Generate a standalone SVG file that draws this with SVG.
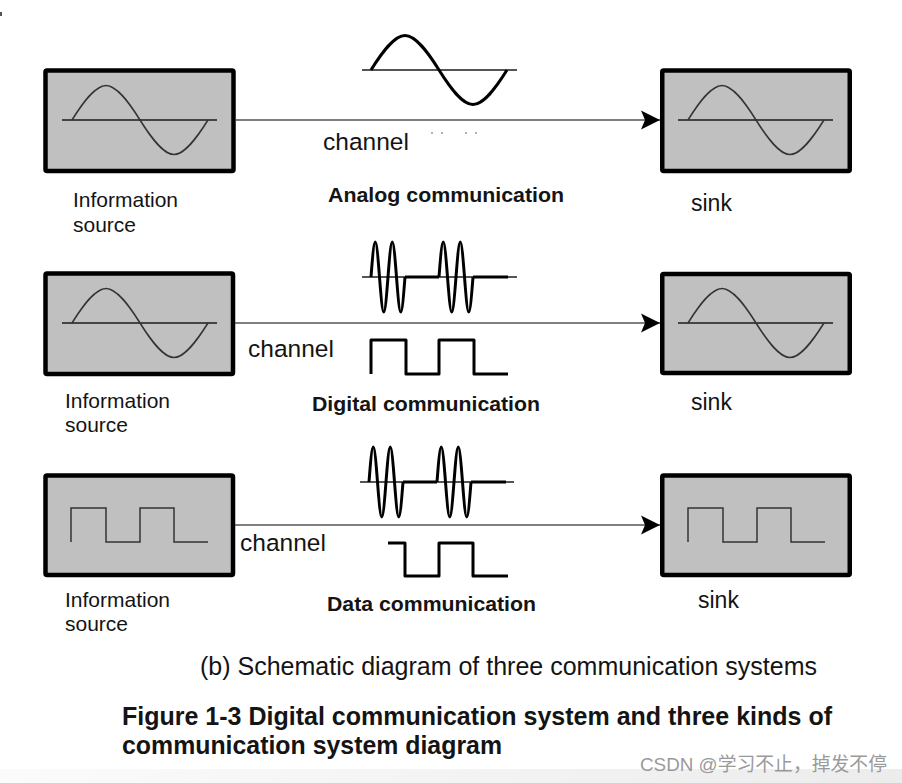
<svg xmlns="http://www.w3.org/2000/svg" xmlns:xlink="http://www.w3.org/1999/xlink" width="902" height="783" viewBox="0 0 902 783">
<defs>
<style>
.box{fill:#c0c0c0;stroke:#000;stroke-width:4.5}
.sig{fill:none;stroke:#333;stroke-width:1.5}
.ax{stroke:#444;stroke-width:2}
.cw{fill:none;stroke:#000;stroke-width:3;stroke-linejoin:round}
.cax{stroke:#555;stroke-width:2}
.conn{stroke:#555;stroke-width:1.6;fill:none}
text{font-family:"Liberation Sans",Arial,sans-serif;fill:#141414}
.lbl{font-size:21px}
.ch{font-size:24.5px}
.sk{font-size:23px}
.bold{font-size:21px;font-weight:bold}
.cap{font-size:25px}
.title{font-size:25px;font-weight:bold}
.wm{font-family:"Liberation Sans","Noto Sans CJK SC",sans-serif;font-size:19px;fill:#9a9a9a}
.dot{fill:#a8b4c4}
</style>
<linearGradient id="band" x1="0" y1="0" x2="1" y2="0">
<stop offset="0" stop-color="#fbfbfb"/>
<stop offset="1" stop-color="#ececec"/>
</linearGradient>
<marker id="arr" markerUnits="userSpaceOnUse" markerWidth="20" markerHeight="20" viewBox="0 0 20 20" refX="19" refY="10" orient="auto">
<path d="M0,0.5 L19,10 L0,19.5 L4,10 Z" fill="#000"/>
</marker>
<path id="sine" d="M0,0 c11.09,-17.67 23.18,-34.5 34,-34.5 s22.91,16.83 34,34.5 s23.18,34.5 34,34.5 s22.91,-16.83 34,-34.5"/>
<path id="sq" d="M0,34 V0 H35 V34 H69 V0 H103 V34 H137"/>
<path id="burst" d="M0,0 c1.39,-17.93 2.9,-35 4.25,-35 s2.86,17.07 4.25,35 s2.9,35 4.25,35 s2.86,-17.07 4.25,-35 s2.9,-35 4.25,-35 s2.86,17.07 4.25,35 s2.9,35 4.25,35 s2.86,-17.07 4.25,-35"/>
</defs>

<rect width="902" height="783" fill="#fff"/>
<rect x="0" y="12" width="2" height="4" fill="#555"/>

<g id="connectors">
<path class="conn" d="M236,120 H660" marker-end="url(#arr)"/>
<path class="conn" d="M235,323 H660" marker-end="url(#arr)"/>
<path class="conn" d="M235,525 H660" marker-end="url(#arr)"/>
</g>

<!-- Row 1: analog -->
<g id="source1">
<rect class="box" x="45.5" y="70.5" width="188" height="100.5" rx="1.5"/>
<line class="ax" x1="62" y1="120" x2="217" y2="120"/>
<use xlink:href="#sine" class="sig" x="72" y="120"/>
<text class="lbl" x="73" y="207">Information</text>
<text class="lbl" x="73" y="232">source</text>
</g>
<g id="channel1">
<line class="cax" x1="362" y1="70" x2="517" y2="70"/>
<use xlink:href="#sine" class="cw" x="371" y="70"/>
<text class="ch" x="323" y="150">channel</text>
<rect class="dot" x="431" y="132" width="2" height="2"/>
<rect class="dot" x="441" y="132" width="2" height="2"/>
<rect class="dot" x="465" y="132" width="2" height="2"/>
<rect class="dot" x="475" y="132" width="2" height="2"/>
<text class="bold" x="328" y="202" textLength="236" lengthAdjust="spacingAndGlyphs">Analog communication</text>
</g>
<g id="sink1">
<rect class="box" x="662.25" y="70.5" width="187.5" height="100.5" rx="1.5"/>
<line class="ax" x1="678" y1="120" x2="833" y2="120"/>
<use xlink:href="#sine" class="sig" x="688" y="120"/>
<text class="sk" x="691" y="211">sink</text>
</g>

<!-- Row 2: digital -->
<g id="source2">
<rect class="box" x="45.5" y="273.5" width="187.5" height="100.5" rx="1.5"/>
<line class="ax" x1="62" y1="323" x2="217" y2="323"/>
<use xlink:href="#sine" class="sig" x="72" y="323"/>
<text class="lbl" x="65" y="408">Information</text>
<text class="lbl" x="65" y="432">source</text>
</g>
<g id="channel2">
<line class="cax" x1="362" y1="277" x2="517" y2="277"/>
<use xlink:href="#burst" class="cw" x="371" y="277"/>
<use xlink:href="#burst" class="cw" x="439" y="277"/>
<path class="cw" d="M405,277 H439 M473,277 H508"/>
<path class="cw" d="M371,374 V340 H406 V374 H439 V340 H474 V374 H508"/>
<text class="ch" x="248" y="357">channel</text>
<text class="bold" x="312" y="411" textLength="228" lengthAdjust="spacingAndGlyphs">Digital communication</text>
</g>
<g id="sink2">
<rect class="box" x="662.25" y="274" width="187.5" height="99" rx="1.5"/>
<line class="ax" x1="678" y1="323" x2="833" y2="323"/>
<use xlink:href="#sine" class="sig" x="688" y="323"/>
<text class="sk" x="691" y="410">sink</text>
</g>

<!-- Row 3: data -->
<g id="source3">
<rect class="box" x="45.5" y="475.5" width="187.5" height="99.5" rx="1.5"/>
<use xlink:href="#sq" class="sig" x="71" y="508"/>
<text class="lbl" x="65" y="607">Information</text>
<text class="lbl" x="65" y="631">source</text>
</g>
<g id="channel3">
<line class="cax" x1="360" y1="482" x2="514" y2="482"/>
<use xlink:href="#burst" class="cw" x="369" y="482"/>
<use xlink:href="#burst" class="cw" x="437" y="482"/>
<path class="cw" d="M403,482 H437 M471,482 H506"/>
<path class="cw" d="M388,543 H405 V576 H439 V543 H473 V576 H508"/>
<text class="ch" x="240" y="551">channel</text>
<text class="bold" x="327" y="611" textLength="209" lengthAdjust="spacingAndGlyphs">Data communication</text>
</g>
<g id="sink3">
<rect class="box" x="662.25" y="475.5" width="187.5" height="99.5" rx="1.5"/>
<use xlink:href="#sq" class="sig" x="688" y="508"/>
<text class="sk" x="698" y="608">sink</text>
</g>

<g id="captions">
<text class="cap" x="200" y="675" textLength="617" lengthAdjust="spacingAndGlyphs">(b) Schematic diagram of three communication systems</text>
<text class="title" x="122" y="725" textLength="710" lengthAdjust="spacingAndGlyphs">Figure 1-3 Digital communication system and three kinds of</text>
<text class="title" x="122" y="754" textLength="380" lengthAdjust="spacingAndGlyphs">communication system diagram</text>
</g>

<rect x="0" y="769" width="902" height="14" fill="url(#band)"/>
<text class="wm" x="640" y="771" textLength="247" lengthAdjust="spacingAndGlyphs">CSDN @学习不止，掉发不停</text>
</svg>
